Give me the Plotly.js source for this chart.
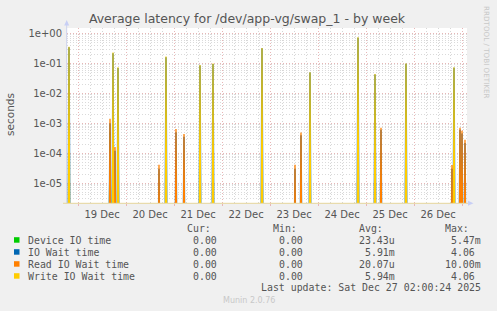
<!DOCTYPE html>
<html><head><meta charset="utf-8">
<script src="https://cdn.plot.ly/plotly-3.0.1.min.js"></script>
<style>html,body{margin:0;padding:0;background:#f0f0f0;}</style>
</head><body><div id="chart" style="width:497px;height:311px;"></div>
<script>
// ---- data ----
const spikeTimes = [
  '2025-12-18 19:30','2025-12-19 16:00','2025-12-19 17:30','2025-12-19 18:30','2025-12-19 20:00',
  '2025-12-20 16:30','2025-12-20 20:00','2025-12-21 01:00','2025-12-21 05:00','2025-12-21 13:00',
  '2025-12-21 19:30','2025-12-22 20:00','2025-12-23 12:30','2025-12-23 15:30','2025-12-23 20:00',
  '2025-12-24 20:00','2025-12-25 04:30','2025-12-25 07:30','2025-12-25 20:00','2025-12-26 19:00',
  '2025-12-26 20:00','2025-12-26 23:00','2025-12-27 00:00','2025-12-27 01:30'];
const deviceIO = [2e-5,5e-4,0,0,0, 4e-6,0,0,0,0, 0,0,5e-6,0,0, 0,1e-5,0,0,0, 5e-6,0,0,0];
const ioWait   = [0.35,1.0e-3,0.22,1.2e-4,0.07, 3e-5,0.16,5e-4,3.5e-4,0.085, 0.095,0.32,3e-5,4e-4,0.05, 0.72,0.043,6e-4,0.098,3e-5, 0.072,6e-4,4.5e-4,2.2e-4];
const readIO   = [0,1.4e-3,0,1.6e-4,0, 4.1e-5,0,6.4e-4,4.4e-4,0, 0,0,4.1e-5,4.9e-4,0, 0,0,7e-4,0,4e-5, 0,7e-4,5.6e-4,2.8e-4];
const writeIO  = [0.36,0,0.23,0,0.075, 0,0.17,0,0,0.088, 0.1,0.33,0,0,0.051, 0.75,0.044,0,0.1,0, 0.075,0,0,0];

const seriesNames  = ['Device IO time','IO Wait time','Read IO Wait time','Write IO Wait time'];
const seriesColors = ['#00cc00','#0066b3','#ff8000','#ffcc00'];
const curVals = ['0.00','0.00','0.00','0.00'];
const minVals = ['0.00','0.00','0.00','0.00'];
const avgVals = ['23.43u','5.91m','20.07u','5.94m'];
const maxVals = ['5.47m','4.06','10.00m','4.06'];
const yTickVals = [1,0.1,0.01,0.001,0.0001,0.00001];
const yTickText = ['1e+00','1e-01','1e-02','1e-03','1e-04','1e-05'];
const xRange = ['2025-12-18 18:30','2025-12-27 02:30'];

// ---- build ----
const STEP = 30*60*1000;
const FLOOR = 1e-9;
function toMs(s){ return Date.parse(s.replace(' ','T')+':00Z'); }
function buildTrace(vals, color, name, width){
  const x=[], y=[];
  vals.forEach((v,i)=>{
    if(v>0){
      const t = toMs(spikeTimes[i]);
      x.push(t-STEP,t,t+STEP,null);
      y.push(FLOOR,v,FLOOR,null);
    }
  });
  return {type:'scatter',mode:'lines',x:x,y:y,name:name,
    line:{color:color,width:width},hoverinfo:'skip',showlegend:false};
}
const allSeries=[deviceIO,ioWait,readIO,writeIO];
const widths=[1.4,1.6,1.3,1.2];
const traces = allSeries.map((s,i)=>buildTrace(s,seriesColors[i],seriesNames[i],widths[i]));

// pixel -> paper helpers (plot area: x 67..467, y 28..203)
const L=67, R=467, T=28, B=203;
const px=(x)=>(x-L)/(R-L);
const py=(y)=>(B-y)/(B-T);

const minorY=[];
for(let e=-6;e<=0;e++){ for(let d=2;d<=9;d++){ minorY.push(d*Math.pow(10,e)); } }

const FONT='DejaVu Sans, sans-serif';
const MONO='DejaVu Sans Mono, monospace';
const TXT='#555555';
const ann=[];
ann.push({text:'seconds',x:px(10),y:py(115),xref:'paper',yref:'paper',showarrow:false,
  textangle:-90,font:{family:FONT,size:10.5,color:TXT},xanchor:'center',yanchor:'middle'});
ann.push({text:'RRDTOOL / TOBI OETIKER',x:px(487),y:py(52),xref:'paper',yref:'paper',showarrow:false,
  textangle:90,font:{family:FONT,size:7.2,color:'#c8c8c8'},xanchor:'center',yanchor:'middle'});

const FS=9.9, CW=0.602*FS;
const colEnd=[225,311,397,483];
const headers=['Cur:','Min:','Avg:','Max:'];
headers.forEach((h,i)=>ann.push({text:h,x:px(colEnd[i]-2*CW),y:py(228),xref:'paper',yref:'paper',
  showarrow:false,xanchor:'right',yanchor:'middle',font:{family:MONO,size:FS,color:TXT}}));
const cols=[curVals,minVals,avgVals,maxVals];
const shapes=[];
seriesNames.forEach((n,r)=>{
  const yy=240+12*r;
  ann.push({text:n,x:px(26.3),y:py(yy),xref:'paper',yref:'paper',showarrow:false,
    xanchor:'left',yanchor:'middle',font:{family:MONO,size:FS,color:TXT}});
  shapes.push({type:'rect',xref:'paper',yref:'paper',x0:px(14),x1:px(19.5),y0:py(yy+2.7),y1:py(yy-2.8),
    fillcolor:seriesColors[r],line:{width:0}});
  cols.forEach((c,ci)=>{
    const v=c[r];
    const hasSuffix=/[a-zA-Z]$/.test(v);
    ann.push({text:v,x:px(colEnd[ci]-(hasSuffix?0:CW)),y:py(yy),xref:'paper',yref:'paper',showarrow:false,
      xanchor:'right',yanchor:'middle',font:{family:MONO,size:FS,color:TXT}});
  });
});
ann.push({text:'Last update: Sat Dec 27 02:00:24 2025',x:px(483),y:py(287.5),xref:'paper',yref:'paper',
  showarrow:false,xanchor:'right',yanchor:'middle',font:{family:MONO,size:FS,color:TXT}});
ann.push({text:'Munin 2.0.76',x:px(248.5),y:py(300.5),xref:'paper',yref:'paper',
  showarrow:false,xanchor:'center',yanchor:'middle',font:{family:FONT,size:8,color:'#c8c8c8'}});

// axis lines & arrows
shapes.push({type:'line',xref:'paper',yref:'paper',x0:px(66.7),x1:px(66.7),y0:py(203.3),y1:py(22),
  line:{color:'#cdd3ee',width:1}});
shapes.push({type:'line',xref:'paper',yref:'paper',x0:px(63),x1:px(469),y0:py(203.3),y1:py(203.3),
  line:{color:'#e6d69c',width:1}});
shapes.push({type:'path',xref:'paper',yref:'paper',
  path:`M ${px(64.2)} ${py(25.5)} L ${px(69.2)} ${py(25.5)} L ${px(66.7)} ${py(20)} Z`,
  fillcolor:'#c8cff5',line:{width:0}});
shapes.push({type:'path',xref:'paper',yref:'paper',
  path:`M ${px(468)} ${py(200.8)} L ${px(468)} ${py(205.8)} L ${px(473.5)} ${py(203.3)} Z`,
  fillcolor:'#c8cff5',line:{width:0}});

const layout={
  width:497,height:311,
  paper_bgcolor:'#f0f0f0',plot_bgcolor:'#ffffff',
  margin:{l:L,r:497-R,t:T,b:311-B,pad:0},
  title:{text:'Average latency for /dev/app-vg/swap_1 - by week',
    font:{family:FONT,size:12.5,color:TXT},x:0.497,xanchor:'center',y:1-19/311,yref:'container',yanchor:'middle'},
  xaxis:{type:'date',range:xRange,tick0:'2025-12-19',dtick:86400000,tickformat:'%d %b',
    ticklabelmode:'period',showgrid:true,gridcolor:'#e8b6b6',griddash:'1px,2px',gridwidth:1,
    ticks:'outside',ticklen:2,tickcolor:'#e8b6b6',
    tickfont:{family:FONT,size:10,color:TXT},zeroline:false,showline:false,fixedrange:true,
    minor:{tick0:'2025-12-19',dtick:6*3600*1000,showgrid:true,gridcolor:'#d6d6d6',griddash:'1px,2px',gridwidth:1}},
  yaxis:{type:'log',range:[Math.log10(2.15e-6),0.185],tickmode:'array',tickvals:yTickVals,ticktext:yTickText,
    showgrid:true,gridcolor:'#e8b6b6',griddash:'1px,2px',gridwidth:1,ticks:'',
    ticklabelstandoff:4,
    tickfont:{family:FONT,size:10,color:TXT},zeroline:false,showline:false,fixedrange:true,
    minor:{tickmode:'array',tickvals:minorY,showgrid:true,gridcolor:'#dadada',griddash:'1px,2px',gridwidth:1}},
  annotations:ann,shapes:shapes,showlegend:false
};
Plotly.newPlot('chart',traces,layout,{staticPlot:true,displayModeBar:false});
</script></body></html>
